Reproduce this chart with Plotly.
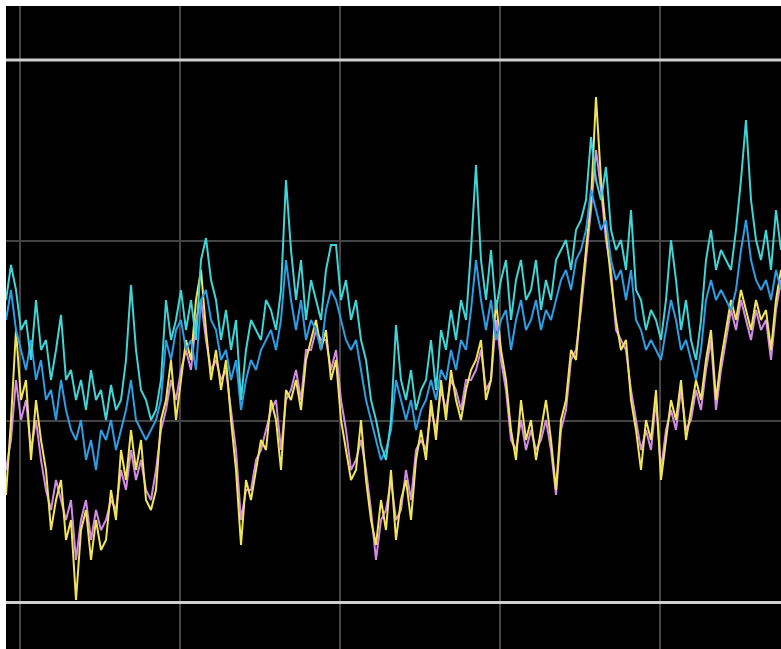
import plotly.graph_objects as go

# sample index (one sample every ~5 px across the plot)
t = list(range(156))

cyan = [302,337,312,272,282,242,302,252,262,222,252,287,222,232,202,222,192,232,202,212,
        182,217,192,202,242,317,252,212,202,182,192,222,302,262,282,312,272,302,262,342,
        364,322,302,262,292,252,282,202,252,282,272,262,302,292,272,312,422,352,302,342,
        282,322,302,282,332,357,357,302,322,282,302,262,242,202,182,157,142,182,277,222,
        202,232,192,212,222,262,212,272,252,292,262,302,282,352,437,342,302,352,292,322,
        342,282,322,342,302,312,342,292,322,302,342,352,362,332,372,382,402,465,422,402,
        435,372,352,362,332,392,312,302,272,292,282,262,302,362,322,272,302,262,242,282,
        342,372,332,352,342,332,372,422,482,402,362,342,372,332,392,352]

blue = [282,312,272,252,232,262,222,242,202,212,182,222,192,172,162,182,142,162,132,172,
        162,182,152,172,192,222,182,172,162,172,182,202,262,242,272,282,252,262,232,302,
        312,282,272,242,252,222,242,192,222,242,232,252,262,272,252,282,342,302,272,302,
        262,282,272,252,292,312,302,282,262,252,262,232,202,182,162,142,152,172,222,202,
        182,202,172,192,202,222,202,232,222,252,232,262,252,292,342,302,272,302,262,282,
        292,252,282,302,272,282,302,272,292,282,302,322,332,312,342,352,372,412,392,372,
        382,342,322,332,302,332,282,272,252,262,252,242,272,302,282,252,262,242,222,252,
        302,322,302,312,302,292,312,352,382,342,322,312,322,302,332,312]

yellow = [107,182,272,202,222,142,202,162,132,72,102,122,62,82,2,72,92,42,82,52,
          62,112,82,152,122,172,132,162,102,92,112,182,202,242,182,222,262,242,302,332,
          272,222,252,212,242,182,132,57,122,102,132,162,152,202,182,132,212,202,222,192,
          242,262,282,252,272,222,242,182,152,122,132,182,122,82,57,102,72,132,62,102,
          122,82,142,172,142,202,162,222,182,232,202,182,212,232,242,262,202,222,302,252,
          222,172,142,202,162,182,142,172,202,162,112,182,202,252,242,302,352,402,505,422,
          372,322,282,252,262,202,172,132,182,162,212,122,162,202,182,222,162,192,222,202,
          242,272,202,242,272,302,282,312,292,272,302,282,292,252,302,332]

violet = [132,162,222,182,202,152,182,142,112,92,122,102,82,102,42,82,102,62,92,72,
          82,102,92,132,112,152,122,142,112,102,132,172,192,222,202,232,252,232,282,302,
          262,232,242,222,232,192,152,82,112,112,142,152,172,192,202,152,202,212,232,202,
          252,252,272,262,262,232,252,202,172,132,142,162,132,92,42,82,92,122,82,92,
          132,102,152,162,152,192,172,212,192,222,212,192,222,222,232,252,212,222,282,242,
          212,162,152,182,152,172,152,162,182,152,107,172,192,242,252,292,342,392,452,412,
          362,332,272,262,252,212,182,152,172,152,202,132,172,192,172,212,172,182,212,192,
          232,262,192,232,262,292,272,302,282,262,292,272,282,242,292,322]

series = [
    ("violet", violet, "#d48ae6"),
    ("yellow", yellow, "#f2e45a"),
    ("blue", blue, "#2c9ee6"),
    ("cyan", cyan, "#3fd4d6"),
]

fig = go.Figure()
for name, vals, col in series:
    fig.add_trace(go.Scatter(x=t, y=vals, mode="lines", name=name,
                             line=dict(color=col, width=2), showlegend=False))

fig.update_layout(
    width=781, height=649,
    margin=dict(l=6, r=0, t=6, b=0),
    paper_bgcolor="white",
    plot_bgcolor="black",
    xaxis=dict(range=[0, 155], tick0=2.8, dtick=32, showgrid=True,
               gridcolor="#444444", gridwidth=2, showticklabels=False,
               zeroline=False, showline=False, ticks=""),
    yaxis=dict(range=[-47, 596], tick0=0, dtick=180.67, showgrid=True,
               gridcolor="#444444", gridwidth=2, showticklabels=False,
               zeroline=True, zerolinecolor="#d0d0d0", zerolinewidth=3,
               showline=False, ticks=""),
)
fig.add_hline(y=542, line=dict(color="#d0d0d0", width=3), layer="above")

fig.write_html("out.html", config={"displayModeBar": False},
               post_script="document.body.style.margin='0';document.body.style.padding='0';")
